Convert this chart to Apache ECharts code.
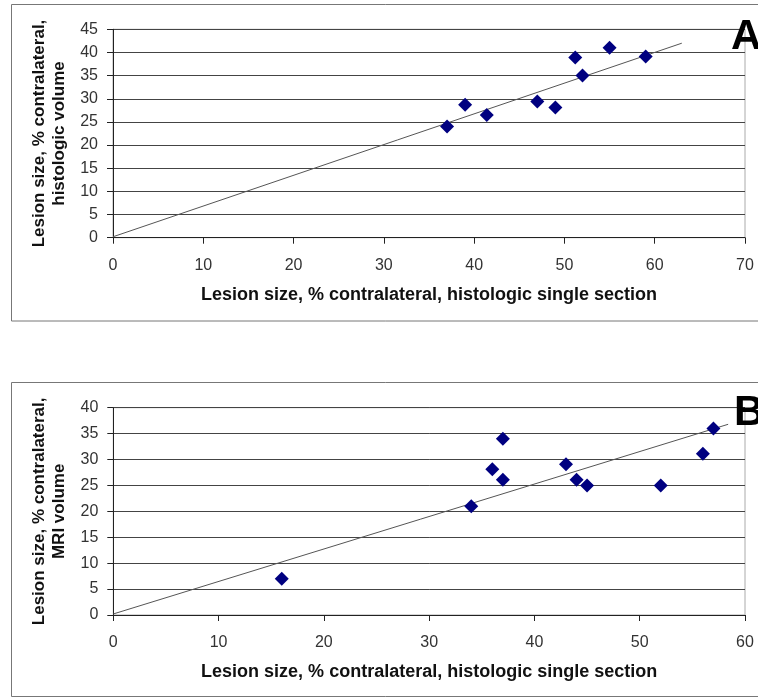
<!DOCTYPE html>
<html>
<head>
<meta charset="utf-8">
<script src="https://cdn.jsdelivr.net/npm/echarts@6/dist/echarts.min.js"></script>
<style>
html,body{margin:0;padding:0;background:#fff;}
#chart{width:758px;height:698px;}
</style>
</head>
<body>
<div id="chart"></div>
<script>
// Panel A data: histologic single section (x) vs histologic volume (y)
var pointsA = [[37, 24], [39, 28.7], [41.4, 26.5], [47, 29.4], [49, 28.1], [51.2, 38.9], [52, 35], [55, 41], [59, 39.1]];
var trendA = [[0, 0.2], [63, 42]];
// Panel B data: histologic single section (x) vs MRI volume (y)
var pointsB = [[16, 7], [34, 21], [36, 28.1], [37, 34], [37, 26.1], [43, 29.1], [44, 26.1], [45, 25], [52, 25], [56, 31.1], [57, 36]];
var trendB = [[0, 0.2], [58.4, 36.8]];
var xTitle = 'Lesion size, % contralateral, histologic single section';
var yTitleA = 'Lesion size, % contralateral,\nhistologic volume';
var yTitleB = 'Lesion size, % contralateral,\nMRI volume';
var panelLabels = ['A', 'B'];

var FONT = 'Liberation Sans, Arial, sans-serif';
var chart = echarts.init(document.getElementById('chart'));

function xAxis(gridIndex, max) {
  return {
    type: 'value', gridIndex: gridIndex, min: 0, max: max, interval: 10,
    name: xTitle, nameLocation: 'middle', nameGap: 48,
    nameTextStyle: {fontFamily: FONT, fontSize: 18, fontWeight: 'bold', color: '#111'},
    axisLine: {show: true, onZero: false, lineStyle: {color: '#222', width: 1}},
    axisTick: {show: true, inside: false, length: 6, lineStyle: {color: '#222'}},
    axisLabel: {fontFamily: FONT, fontSize: 16, color: '#333', margin: 20},
    splitLine: {show: false}
  };
}
function yAxis(gridIndex, max, name) {
  return {
    type: 'value', gridIndex: gridIndex, min: 0, max: max, interval: 5,
    name: name, nameLocation: 'middle', nameGap: 44, nameRotate: 90,
    nameTextStyle: {fontFamily: FONT, fontSize: 17, fontWeight: 'bold', color: '#111', lineHeight: 20, align: 'center'},
    axisLine: {show: true, onZero: false, lineStyle: {color: '#222', width: 1}},
    axisTick: {show: true, inside: false, length: 6, lineStyle: {color: '#222'}},
    axisLabel: {fontFamily: FONT, fontSize: 16, color: '#333', margin: 15},
    splitLine: {show: true, lineStyle: {color: '#444', width: 1}}
  };
}
function scatter(i, data) {
  return {type: 'scatter', xAxisIndex: i, yAxisIndex: i, data: data, symbol: 'diamond', symbolSize: 14,
    itemStyle: {color: '#000080', opacity: 1}, z: 5, silent: true};
}
function trend(i, data) {
  return {type: 'line', xAxisIndex: i, yAxisIndex: i, data: data, symbol: 'none',
    lineStyle: {color: '#555', width: 1}, z: 4, silent: true};
}

chart.setOption({
  animation: false,
  backgroundColor: '#fff',
  grid: [
    {left: 113, right: 13, top: 29.3, height: 208.4, show: true, borderColor: '#aaa', borderWidth: 1},
    {left: 113.3, right: 13, top: 407.7, height: 207.3, show: true, borderColor: '#aaa', borderWidth: 1}
  ],
  xAxis: [xAxis(0, 70), xAxis(1, 60)],
  yAxis: [yAxis(0, 45, yTitleA), yAxis(1, 40, yTitleB)],
  series: [scatter(0, pointsA), trend(0, trendA), scatter(1, pointsB), trend(1, trendB)],
  graphic: [
    {type: 'rect', shape: {x: 11.5, y: 4.5, width: 800, height: 316.5}, style: {fill: 'none', stroke: '#777', lineWidth: 1}, z: -10},
    {type: 'rect', shape: {x: 11.5, y: 382.5, width: 800, height: 314}, style: {fill: 'none', stroke: '#777', lineWidth: 1}, z: -10},
    {type: 'text', left: 731, top: 16, style: {text: panelLabels[0], font: 'bold 42px ' + FONT, fill: '#000'}, z: 10},
    {type: 'text', left: 734, top: 392, style: {text: panelLabels[1], font: 'bold 42px ' + FONT, fill: '#000'}, z: 10}
  ]
});
</script>
</body>
</html>
